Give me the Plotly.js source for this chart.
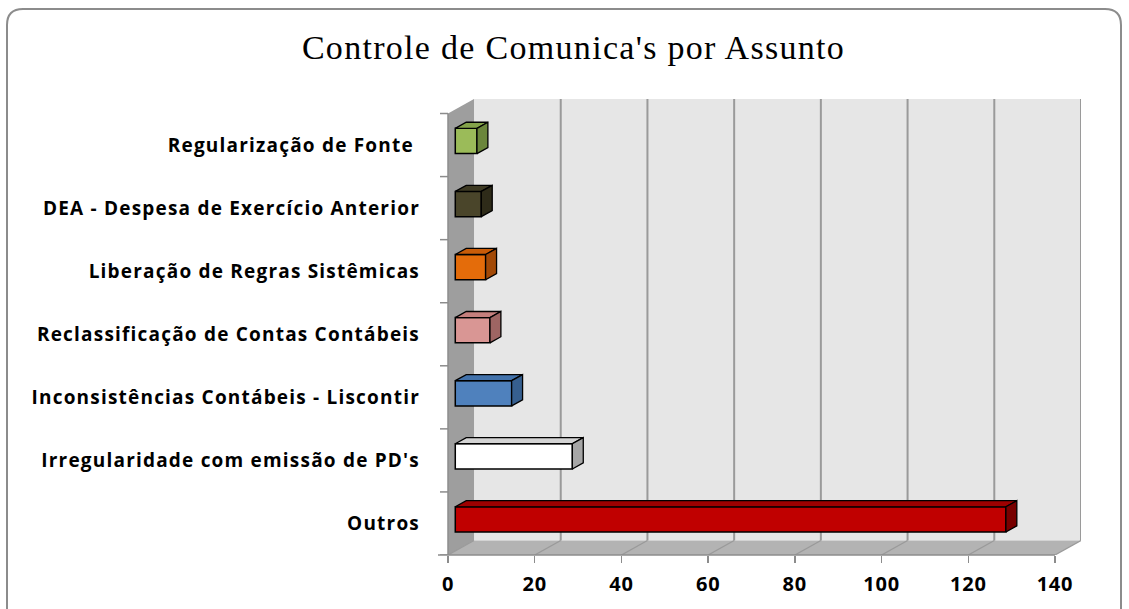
<!DOCTYPE html>
<html>
<head>
<meta charset="utf-8">
<script src="https://cdn.plot.ly/plotly-3.0.1.min.js"></script>
<style>
html,body{margin:0;padding:0;background:#fff;}
#chart{width:1129px;height:609px;}
#chart .ytick text{letter-spacing:1.2px;}
#chart .xtick text{letter-spacing:0.8px;}
#chart .gtitle{letter-spacing:1.3px;}
</style>
</head>
<body>
<div id="chart"></div>
<script>
// ---- data ----
const categories = ["Outros", "Irregularidade com emissão de PD's", "Inconsistências Contábeis - Liscontir", "Reclassificação de Contas Contábeis", "Liberação de Regras Sistêmicas", "DEA - Despesa de Exercício Anterior", "Regularização de Fonte "];
const values = [127, 27, 13, 8, 7, 6, 5];
const frontColors = ["#c00000", "#ffffff", "#4f81bd", "#d99694", "#e46c0a", "#4a452a", "#9bbb59"];
const topColors = ["#9e0000", "#d4d4d4", "#4272ab", "#c47f7d", "#c95c08", "#3e3a23", "#84a34a"];
const sideColors = ["#780000", "#a6a6a6", "#365f8f", "#9e6563", "#a34a07", "#2e2b19", "#6b863b"];
const xTicks = [0, 20, 40, 60, 80, 100, 120, 140];

// ---- 3D geometry (data units) ----
const DX = 6.0, DY = 0.23;     // full depth offset
const d0 = 0.28, d1 = 0.70;    // bar depth (front / back)
const BH = 0.40;               // bar thickness
const yMin = -0.5, yMax = categories.length - 0.5;
const xMax = xTicks[xTicks.length - 1];

const L = 448, R = 48, T = 99, B = 54, W = 1129 - L - R, H = 609 - T - B;
const px = x => (x - L) / W;
const py = y => (609 - B - y) / H;

const idx = categories.map((c, i) => i);
const yc = idx.map(i => i + d0 * DY);
const base = d0 * DX;
const dd = d1 - d0;

const traces = [];
idx.forEach(i => {
  const x0 = base, x1 = values[i] + base;
  const yt = yc[i] + BH / 2, yb = yc[i] - BH / 2;
  traces.push({
    type: 'scatter', mode: 'lines', fill: 'toself', hoverinfo: 'skip', showlegend: false,
    x: [x0, x1, x1 + dd * DX, x0 + dd * DX, x0],
    y: [yt, yt, yt + dd * DY, yt + dd * DY, yt],
    fillcolor: topColors[i], line: {color: '#000', width: 1.3}
  });
  traces.push({
    type: 'scatter', mode: 'lines', fill: 'toself', hoverinfo: 'skip', showlegend: false,
    x: [x1, x1, x1 + dd * DX, x1 + dd * DX, x1],
    y: [yb, yt, yt + dd * DY, yb + dd * DY, yb],
    fillcolor: sideColors[i], line: {color: '#000', width: 1.3}
  });
});
traces.push({
  type: 'bar', orientation: 'h', x: values, y: yc, base: base, width: BH,
  marker: {color: frontColors, line: {color: '#000', width: 1.5}},
  text: categories, hoverinfo: 'text+x', textposition: 'none', showlegend: false
});

const shapes = [];
// back wall
shapes.push({type: 'rect', layer: 'below', xref: 'x', yref: 'y', x0: DX, x1: xMax + DX, y0: yMin + DY, y1: yMax + DY,
  fillcolor: '#e6e6e6', line: {width: 0}});
// floor
shapes.push({type: 'path', layer: 'below', xref: 'x', yref: 'y',
  path: `M0,${yMin} L${xMax},${yMin} L${xMax + DX},${yMin + DY} L${DX},${yMin + DY} Z`,
  fillcolor: '#b3b3b3', line: {width: 0}});
// left wall
shapes.push({type: 'path', layer: 'below', xref: 'x', yref: 'y',
  path: `M0,${yMin} L0,${yMax} L${DX},${yMax + DY} L${DX},${yMin + DY} Z`,
  fillcolor: '#9e9e9e', line: {width: 0}});
// gridlines on back wall + floor
xTicks.forEach(t => {
  if (t > 0) shapes.push({type: 'line', layer: 'below', xref: 'x', yref: 'y', x0: t + DX, x1: t + DX, y0: yMin + DY, y1: yMax + DY,
    line: {color: '#9a9a9a', width: 2}});
  shapes.push({type: 'line', layer: 'below', xref: 'x', yref: 'y', x0: t, x1: t + DX, y0: yMin, y1: yMin + DY,
    line: {color: '#9a9a9a', width: 1.3}});
});
// front axes lines
shapes.push({type: 'line', xref: 'paper', yref: 'paper', x0: px(438), x1: xMax / (xMax + DX), y0: 0, y1: 0,
  line: {color: '#8c8c8c', width: 1.5}});
shapes.push({type: 'line', xref: 'paper', yref: 'y', x0: 0, x1: 0, y0: yMin, y1: yMax,
  line: {color: '#8c8c8c', width: 1.5}});
idx.concat([categories.length]).forEach(k => {
  shapes.push({type: 'line', xref: 'paper', yref: 'y', x0: px(440), x1: 0, y0: k - 0.5, y1: k - 0.5,
    line: {color: '#8c8c8c', width: 1.5}});
});
// outer rounded frame
(function () {
  const x0 = px(7), x1 = px(1121), y0 = py(9), y1 = py(625);
  const rx = 16 / W, ry = 16 / H;
  shapes.push({type: 'path', xref: 'paper', yref: 'paper', layer: 'below',
    path: `M${x0 + rx},${y0} L${x1 - rx},${y0} Q${x1},${y0} ${x1},${y0 - ry} L${x1},${y1 + ry} Q${x1},${y1} ${x1 - rx},${y1} L${x0 + rx},${y1} Q${x0},${y1} ${x0},${y1 + ry} L${x0},${y0 - ry} Q${x0},${y0} ${x0 + rx},${y0} Z`,
    line: {color: '#8c8c8c', width: 2}, fillcolor: 'rgba(0,0,0,0)'});
})();

const layout = {
  width: 1129, height: 609,
  margin: {l: L, r: R, t: T, b: B, pad: 0},
  paper_bgcolor: '#ffffff', plot_bgcolor: 'rgba(0,0,0,0)',
  showlegend: false,
  title: {text: "Controle de Comunica's por Assunto", xref: 'container', yref: 'container', x: 0.508, y: 1 - 47 / 609,
    xanchor: 'center', yanchor: 'middle', font: {family: 'Liberation Serif, serif', size: 34, color: '#000'}},
  xaxis: {range: [0, xMax + DX], tickmode: 'array', tickvals: xTicks, ticktext: xTicks.map(String),
    ticks: 'outside', ticklen: 7, tickwidth: 1.5, tickcolor: '#8c8c8c', ticklabelstandoff: 4,
    showgrid: false, zeroline: false, showline: false, fixedrange: true,
    tickfont: {family: 'Open Sans, sans-serif', size: 20, color: '#000', weight: 'bold'}},
  yaxis: {range: [yMin, yMax + DY], tickmode: 'array', tickvals: idx, ticktext: categories,
    ticks: '', showgrid: false, zeroline: false, showline: false, fixedrange: true, ticklabelstandoff: 27,
    tickfont: {family: 'Open Sans, sans-serif', size: 19, color: '#000', weight: 'bold'}},
  shapes: shapes,
  bargap: 0
};

Plotly.newPlot('chart', traces, layout, {displayModeBar: false, staticPlot: true});
</script>
</body>
</html>
